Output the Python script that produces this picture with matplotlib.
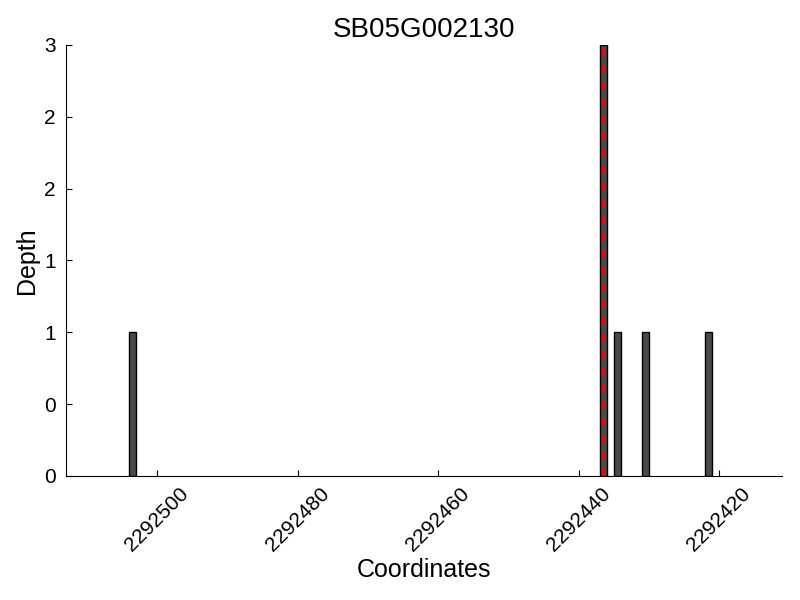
import matplotlib
matplotlib.use("Agg")
import matplotlib.pyplot as plt
from matplotlib.ticker import FormatStrFormatter

plt.rcParams['font.family'] = ['Liberation Sans', 'DejaVu Sans']

title = "SB05G002130"
positions = [2292503, 2292436, 2292434, 2292430, 2292421]
depths = [1, 3, 1, 1, 1]
highlight = 2292436
xticks = [2292500, 2292480, 2292460, 2292440, 2292420]
yticks = [0, 0.5, 1, 1.5, 2, 2.5, 3]

fig = plt.figure(figsize=(8, 6), dpi=100)
ax = fig.add_axes([0.082, 0.207, 0.896, 0.718])
ax.bar(positions, depths, width=1, align='edge', color='#4a4a4a',
       edgecolor='black', linewidth=1)
ax.axvline(highlight + 0.5, color='red', linestyle='--', linewidth=2.2,
           dashes=(2.6, 2.9))
ax.set_xlim(max(positions) + 10, min(positions) - 10)
ax.set_ylim(0, 3)
ax.set_xticks(xticks)
ax.set_xticklabels([str(t) for t in xticks], rotation=45, fontsize=15)
ax.set_yticks(yticks)
ax.yaxis.set_major_formatter(FormatStrFormatter('%d'))
ax.tick_params(axis='y', labelsize=15, pad=7)
ax.tick_params(axis='x', pad=6)
ax.tick_params(direction='in', length=4, width=0.8, top=False, right=False)
ax.spines['top'].set_visible(False)
ax.spines['right'].set_visible(False)
ax.set_xlabel("Coordinates", fontsize=18, labelpad=2)
ax.set_ylabel("Depth", fontsize=18, labelpad=4)
ax.set_title(title, fontsize=20)
fig.savefig("out.png", dpi=100)
